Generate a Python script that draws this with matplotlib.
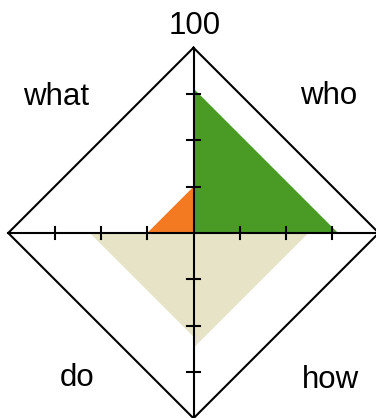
import matplotlib
matplotlib.use('Agg')
import matplotlib.pyplot as plt
from matplotlib import font_manager

# данные по четвертям
quadrants = ['who', 'what', 'do', 'how']
values = [78, 25, 56, 62]
fill_colors = ['#4a9b26', '#f47a22', '#e7e3c6', '#e7e3c6']
max_value = 100
tick_values = [25, 50, 75]

# направления четвертей (знак по x, знак по y)
signs = {'who': (1, 1), 'what': (-1, 1), 'do': (-1, -1), 'how': (1, -1)}

# шрифт: узкий, если есть
names = set(f.name for f in font_manager.fontManager.ttflist)
font_name = 'Liberation Sans Narrow' if 'Liberation Sans Narrow' in names else 'Liberation Sans'

fig = plt.figure(figsize=(3.76, 4.18), dpi=100)
ax = fig.add_axes([0, 0, 1, 1])

px = 1.853  # пикселей на единицу
ax.set_xlim(-193.5 / px, (376 - 193.5) / px)
ax.set_ylim((233 - 418) / px, 233 / px)
ax.axis('off')

# заливки
for name, val, col in zip(quadrants, values, fill_colors):
    sx, sy = signs[name]
    ax.fill([0, sx * val, 0], [0, 0, sy * val], color=col, lw=0, zorder=1)

# ромб
m = max_value
ax.plot([0, m, 0, -m, 0], [m, 0, -m, 0, m], color='black', lw=1.5, zorder=3)

# оси
ax.plot([-m, m], [0, 0], color='black', lw=1.5, zorder=3)
ax.plot([0, 0], [-m, m], color='black', lw=1.5, zorder=3)

# засечки
tl = 3.5
for t in tick_values:
    for s in (1, -1):
        ax.plot([s * t, s * t], [-tl, tl], color='black', lw=1.5, zorder=3)
        ax.plot([-tl, tl], [s * t, s * t], color='black', lw=1.5, zorder=3)

# подписи
fs = 22.5
ax.text(0.8, 107.2, str(max_value), ha='center', va='baseline', fontsize=fs, family=font_name)
label_pos = {'what': (-73.9, 69.1), 'who': (73.1, 69.6), 'do': (-63.0, -82.8), 'how': (74.2, -83.6)}
for name in quadrants:
    x, y = label_pos[name]
    ax.text(x, y, name, ha='center', va='baseline', fontsize=fs, family=font_name)

fig.savefig('out.png', dpi=100)
